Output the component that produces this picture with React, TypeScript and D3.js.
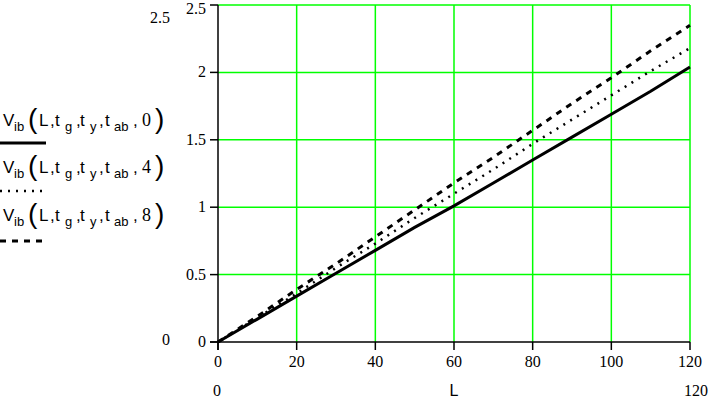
import React from "react";
import * as d3 from "d3";

// L values and the three V_ib curves
const lValues = [0, 10, 20, 30, 40, 50, 60, 70, 80, 90, 100, 110, 120];
const vib0 = [0, 0.17, 0.34, 0.51, 0.68, 0.85, 1.01, 1.18, 1.35, 1.52, 1.69, 1.86, 2.04];
const vib4 = [0, 0.18, 0.36, 0.55, 0.73, 0.92, 1.1, 1.28, 1.47, 1.65, 1.83, 2.01, 2.18];
const vib8 = [0, 0.19, 0.39, 0.58, 0.78, 0.98, 1.18, 1.37, 1.57, 1.77, 1.96, 2.16, 2.35];
const xTicks = [0, 20, 40, 60, 80, 100, 120];
const yTicks = [0, 0.5, 1, 1.5, 2, 2.5];
const legendArgs = ["0", "4", "8"];

const W = 710;
const H = 398;
const left = 218;
const right = 690;
const top = 5;
const bottom = 342;

const serif = "'Liberation Serif', 'Times New Roman', serif";
const sans = "'Liberation Sans', Arial, sans-serif";

// pieces of the legend label: [text, x offset, kind] (n = normal, s = subscript, p = paren)
const labelParts: [string, number, string][] = [
  ["V", 3, "n"],
  ["ib", 14, "s"],
  ["(", 28, "p"],
  ["L", 39, "n"],
  [",", 50, "n"],
  ["t", 55, "n"],
  ["g", 65, "s"],
  [",", 76, "n"],
  ["t", 80, "n"],
  ["y", 90, "s"],
  [",", 99, "n"],
  ["t", 105, "n"],
  ["ab", 114, "s"],
  [",", 133, "n"],
];

const LegendLabel = ({ x, y, arg }: { x: number; y: number; arg: string }) => (
  <g transform={`translate(${x},${y})`} fill="#000">
    {labelParts.map(([t, dx, kind], i) => (
      <text
        key={i}
        x={dx}
        y={kind === "s" ? 5 : kind === "p" ? 2 : 0}
        fontFamily={sans}
        fontSize={kind === "s" ? 13 : kind === "p" ? 28 : 17}
      >
        {t}
      </text>
    ))}
    <text x={142} y={0} fontFamily={serif} fontSize={18}>{arg}</text>
    <text x={155} y={2} fontFamily={sans} fontSize={28}>)</text>
  </g>
);

const App = () => {
  const x = d3.scaleLinear().domain([0, 120]).range([left, right]);
  const y = d3.scaleLinear().domain([0, 2.5]).range([bottom, top]);
  const line = d3
    .line<number>()
    .x((_, i) => x(lValues[i]))
    .y((d) => y(d));

  const series = [
    { data: vib0, dash: "none", width: 3 },
    { data: vib4, dash: "2 6", width: 2.5 },
    { data: vib8, dash: "6 6", width: 3 },
  ];
  const legendRows = [
    { textY: 126, lineY: 143, dash: "none", width: 3, len: 46 },
    { textY: 173, lineY: 191, dash: "2 6", width: 2.5, len: 42 },
    { textY: 221, lineY: 241, dash: "6 6", width: 3, len: 44 },
  ];

  return (
    <svg width={W} height={H} style={{ position: "absolute", left: 0, top: 0, background: "#fff" }}>
      {/* grid */}
      {xTicks.filter((t) => t > 0).map((t) => (
        <line key={"gx" + t} x1={x(t)} x2={x(t)} y1={top} y2={bottom} stroke="#00ff00" strokeWidth={1.5} />
      ))}
      {yTicks.filter((t) => t > 0).map((t) => (
        <line key={"gy" + t} x1={left} x2={right} y1={y(t)} y2={y(t)} stroke="#00ff00" strokeWidth={1.5} />
      ))}

      {/* axes */}
      <line x1={left} x2={left} y1={top} y2={bottom + 8} stroke="#000" strokeWidth={1.5} />
      <line x1={left - 8} x2={right} y1={bottom} y2={bottom} stroke="#000" strokeWidth={1.5} />
      {yTicks.map((t) => (
        <g key={"yt" + t}>
          <line x1={left - 8} x2={left} y1={y(t)} y2={y(t)} stroke="#000" strokeWidth={1.5} />
          <text x={left - 12} y={Math.max(y(t) + 5, 14)} textAnchor="end" fontFamily={serif} fontSize={16}>
            {t}
          </text>
        </g>
      ))}
      {xTicks.map((t) => (
        <g key={"xt" + t}>
          <line x1={x(t)} x2={x(t)} y1={bottom} y2={bottom + 8} stroke="#000" strokeWidth={1.5} />
          <text x={x(t)} y={bottom + 25} textAnchor="middle" fontFamily={serif} fontSize={16}>
            {t}
          </text>
        </g>
      ))}

      {/* axis limit labels */}
      <text x={160} y={23} textAnchor="middle" fontFamily={serif} fontSize={16}>2.5</text>
      <text x={166} y={345} textAnchor="middle" fontFamily={serif} fontSize={16}>0</text>
      <text x={217} y={396} textAnchor="middle" fontFamily={serif} fontSize={16}>0</text>
      <text x={696} y={396} textAnchor="middle" fontFamily={serif} fontSize={16}>120</text>
      <text x={x(60)} y={396} textAnchor="middle" fontFamily={sans} fontSize={16}>L</text>

      {/* curves */}
      {series.map((s, i) => (
        <path key={"s" + i} d={line(s.data) ?? ""} fill="none" stroke="#000" strokeWidth={s.width} strokeDasharray={s.dash} />
      ))}

      {/* legend */}
      {legendRows.map((r, i) => (
        <g key={"lg" + i}>
          <LegendLabel x={0} y={r.textY} arg={legendArgs[i]} />
          <line x1={0} x2={r.len} y1={r.lineY} y2={r.lineY} stroke="#000" strokeWidth={r.width} strokeDasharray={r.dash} />
        </g>
      ))}
    </svg>
  );
};

export default App;
